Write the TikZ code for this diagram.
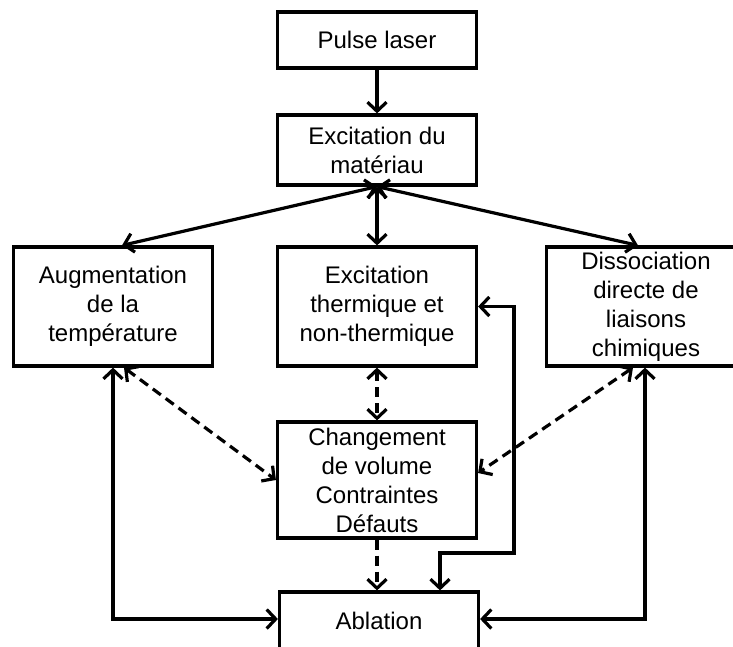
\documentclass[tikz,border=0pt]{standalone}
\usepackage{fontspec}
\setmainfont{Liberation Sans}
\usetikzlibrary{arrows.meta,calc}

\begin{document}
\begin{tikzpicture}[x=1pt,y=-1pt,
        >={Straight Barb[length=9pt,width=19pt]},
        bloc/.style={draw,line width=3.2pt,inner sep=0pt,align=center,
            font=\fontsize{24}{29}\selectfont},
        conn/.style={line width=3.2pt},
        dconn/.style={line width=3.2pt,dash pattern=on 10pt off 6pt}]
        \pgfmathsetmacro\w{199}
        \pgfmathsetmacro\hrow{119}
        \useasboundingbox (0,0) rectangle (733,646);
        \clip (0,0) rectangle (733,646);
        \node[bloc,minimum width=\w pt,minimum height=56pt] (pulse) at (377,40) {Pulse laser};
        \node[bloc,minimum width=\w pt,minimum height=70pt] (excit) at (377,150) {Excitation du\\mat\'eriau};
        \node[bloc,minimum width=\w pt,minimum height=\hrow pt] (augm) at (113,306.5) {Augmentation\\de la\\temp\'erature};
        \node[bloc,minimum width=\w pt,minimum height=\hrow pt] (therm) at (377,306.5) {Excitation\\thermique et\\non-thermique};
        \node[bloc,minimum width=\w pt,minimum height=\hrow pt] (dissoc) at (646,306.5) {Dissociation\\directe de\\liaisons\\chimiques};
        \node[bloc,minimum width=\w pt,minimum height=116pt] (chang) at (377,480) {Changement\\de volume\\Contraintes\\D\'efauts};
        \node[bloc,minimum width=\w pt,minimum height=58pt] (ablat) at (379,621) {Ablation};
        \coordinate (aT) at ($(augm.north)+(9,0)$);
        \coordinate (dT) at ($(dissoc.north)+(-8,0)$);
        \coordinate (aB) at ($(augm.south)+(11,0)$);
        \coordinate (dB) at ($(dissoc.south)+(-13,0)$);
        \coordinate (cE) at ($(chang.east)+(0,-7)$);
        \coordinate (fb1) at (440,553);
        \coordinate (fb2) at (514,553);

        \draw[conn,->] (pulse) -- (excit);
        \draw[conn,<->] (excit.south) -- (therm.north);
        \draw[conn,<->] (excit.south) -- (aT);
        \draw[conn,<->] (excit.south) -- (dT);
        \draw[conn,<->] (augm.south) |- ($(ablat.west)+(0,-2)$);
        \draw[conn,<->] ($(dissoc.south)+(-1,0)$) |- ($(ablat.east)+(0,-2)$);
        \draw[conn,<->] (ablat.north -| fb1) -- (fb1) -- (fb2) |- (therm.east);
        \draw[dconn,<->] (aB) -- (chang.west);
        \draw[dconn,<->] (therm.south) -- (chang.north);
        \draw[dconn,<->] (dB) -- (cE);
        \draw[dconn,->] (chang.south) -- (chang.south |- ablat.north);
    \end{tikzpicture}
\end{document}
